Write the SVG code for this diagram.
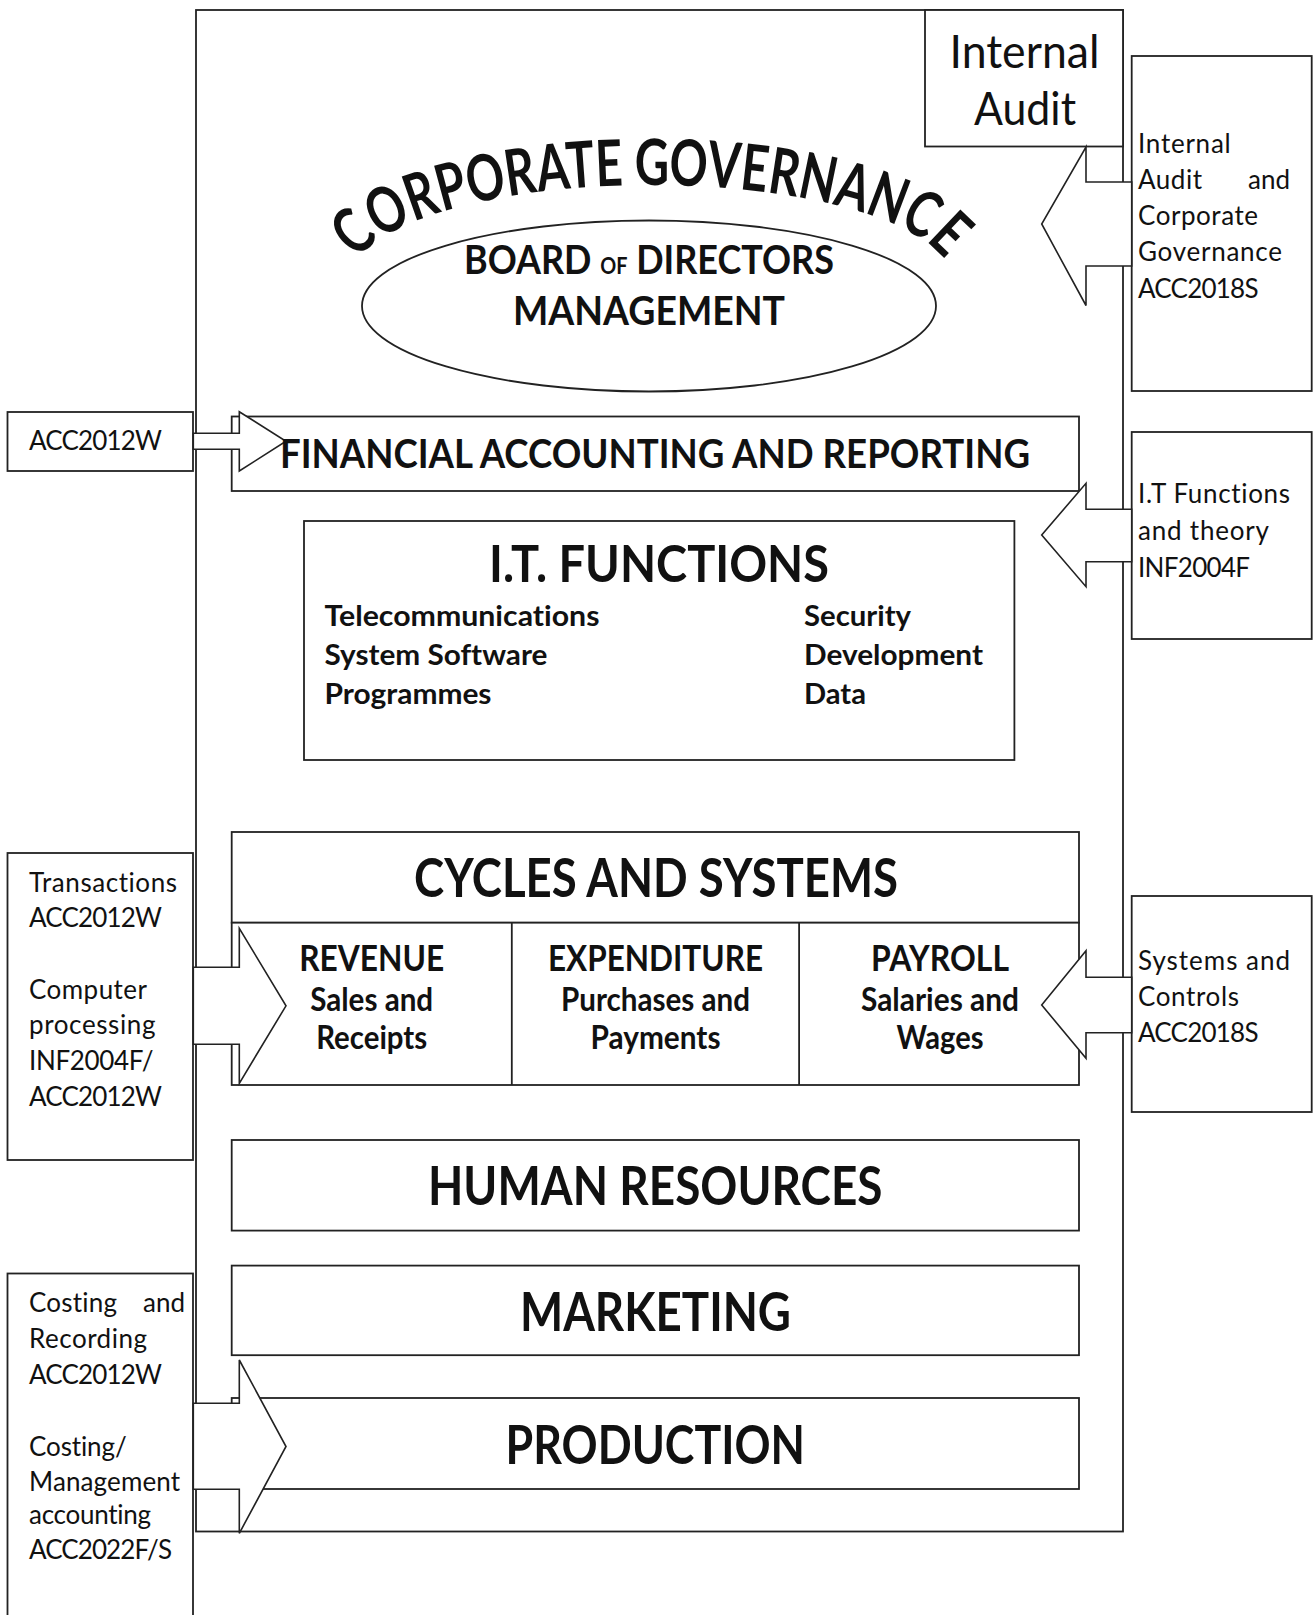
<svg xmlns="http://www.w3.org/2000/svg" width="1313" height="1615" viewBox="0 0 1313 1615">
<style>
.ln{fill:none;stroke:#222;stroke-width:1.8}
.bx{fill:#fff;stroke:#222;stroke-width:1.8}
.ar{fill:#fff;stroke:#222;stroke-width:1.6;stroke-linejoin:miter}
.t{font-family:Lato,"Open Sans",sans-serif;fill:#111;font-variant-ligatures:none}
.r{font-size:26px;font-weight:400}
.h{font-weight:700}
</style>
<defs>
<path id="arc" d="M 351 280 A 300 95 0 0 1 951 280"/>
</defs>
<rect width="1313" height="1615" fill="#fff"/>

<g id="frame">
<rect class="ln" x="196" y="10" width="927" height="1521.5"/>
</g>

<g id="internal-audit">
<rect class="bx" x="925" y="10" width="198" height="136.5"/>
<text class="t" x="1024.5" y="68" font-size="46" text-anchor="middle" textLength="150" lengthAdjust="spacingAndGlyphs">Internal</text>
<text class="t" x="1025" y="125" font-size="46" text-anchor="middle" textLength="102" lengthAdjust="spacingAndGlyphs">Audit</text>
</g>

<g id="corporate-governance">
<ellipse class="bx" cx="649" cy="306" rx="287" ry="85.5"/>
<text class="t h" font-size="64"><textPath href="#arc" startOffset="50%" text-anchor="middle" textLength="620" lengthAdjust="spacingAndGlyphs">CORPORATE GOVERNANCE</textPath></text>
<text class="t h" x="464" y="274" font-size="40" textLength="370" lengthAdjust="spacingAndGlyphs">BOARD <tspan font-size="22">OF</tspan> DIRECTORS</text>
<text class="t h" x="513" y="325" font-size="40" textLength="272" lengthAdjust="spacingAndGlyphs">MANAGEMENT</text>
</g>

<g id="financial">
<rect class="bx" x="231.7" y="416.5" width="847.3" height="74.5"/>
</g>

<g id="it-functions">
<rect class="bx" x="304" y="521" width="710.4" height="239"/>
<text class="t h" x="489" y="582" font-size="52" textLength="340" lengthAdjust="spacingAndGlyphs">I.T. FUNCTIONS</text>
<text class="t h" x="324.5" y="626" font-size="29" textLength="275" lengthAdjust="spacingAndGlyphs">Telecommunications</text>
<text class="t h" x="324.5" y="665" font-size="29" textLength="223" lengthAdjust="spacingAndGlyphs">System Software</text>
<text class="t h" x="324.5" y="704" font-size="29" textLength="167" lengthAdjust="spacingAndGlyphs">Programmes</text>
<text class="t h" x="804" y="626" font-size="29" textLength="107" lengthAdjust="spacingAndGlyphs">Security</text>
<text class="t h" x="804" y="665" font-size="29" textLength="179" lengthAdjust="spacingAndGlyphs">Development</text>
<text class="t h" x="804" y="704" font-size="29" textLength="62" lengthAdjust="spacingAndGlyphs">Data</text>
</g>

<g id="cycles">
<rect class="bx" x="231.7" y="832" width="847.3" height="90.7"/>
<rect class="bx" x="231.7" y="922.7" width="847.3" height="162.3"/>
<line class="ln" x1="511.8" y1="922.7" x2="511.8" y2="1085"/>
<line class="ln" x1="799.1" y1="922.7" x2="799.1" y2="1085"/>
</g>

<g id="human-resources">
<rect class="bx" x="231.7" y="1140" width="847.3" height="90.6"/>
<text class="t h" x="428" y="1205" font-size="54" textLength="454.5" lengthAdjust="spacingAndGlyphs">HUMAN RESOURCES</text>
</g>

<g id="marketing">
<rect class="bx" x="231.7" y="1265.6" width="847.3" height="89.6"/>
<text class="t h" x="520" y="1330.5" font-size="54" textLength="271" lengthAdjust="spacingAndGlyphs">MARKETING</text>
</g>

<g id="production">
<rect class="bx" x="231.7" y="1398" width="847.3" height="91"/>
<text class="t h" x="505.6" y="1464" font-size="54" textLength="299.4" lengthAdjust="spacingAndGlyphs">PRODUCTION</text>
</g>

<g id="box-acc2012w">
<rect class="bx" x="7.5" y="412" width="185.5" height="59"/>
<text class="t r" x="29" y="450" textLength="133">ACC2012W</text>
</g>

<g id="box-transactions">
<rect class="bx" x="7.5" y="853" width="185.5" height="307"/>
<text class="t r" x="29" y="892" textLength="148">Transactions</text>
<text class="t r" x="29" y="927" textLength="133">ACC2012W</text>
<text class="t r" x="29" y="999" textLength="118">Computer</text>
<text class="t r" x="29" y="1034" textLength="126.5">processing</text>
<text class="t r" x="29" y="1070" textLength="124.6">INF2004F/</text>
<text class="t r" x="29" y="1106" textLength="133">ACC2012W</text>
</g>

<g id="box-costing">
<rect class="bx" x="7.5" y="1273.5" width="185.5" height="400"/>
<text class="t r" x="29" y="1312" textLength="88">Costing</text>
<text class="t r" x="185" y="1312" text-anchor="end">and</text>
<text class="t r" x="29" y="1348" textLength="118">Recording</text>
<text class="t r" x="29" y="1384" textLength="133">ACC2012W</text>
<text class="t r" x="29" y="1456" textLength="97.7">Costing/</text>
<text class="t r" x="29" y="1491" textLength="151">Management</text>
<text class="t r" x="29" y="1524" textLength="122">accounting</text>
<text class="t r" x="29" y="1559" textLength="143">ACC2022F/S</text>
</g>

<g id="box-audit-course">
<rect class="bx" x="1131.7" y="56" width="180" height="335"/>
<text class="t r" x="1138" y="153" textLength="92.7">Internal</text>
<text class="t r" x="1138" y="189" textLength="64">Audit</text>
<text class="t r" x="1290" y="189" text-anchor="end">and</text>
<text class="t r" x="1138" y="225" textLength="120">Corporate</text>
<text class="t r" x="1138" y="261" textLength="144">Governance</text>
<text class="t r" x="1138" y="297.5" textLength="120.5">ACC2018S</text>
</g>

<g id="box-it-course">
<rect class="bx" x="1131.7" y="432" width="180" height="207"/>
<text class="t r" x="1138" y="503" textLength="152">I.T Functions</text>
<text class="t r" x="1138" y="540" textLength="131">and theory</text>
<text class="t r" x="1138" y="577" textLength="112">INF2004F</text>
</g>

<g id="box-systems-course">
<rect class="bx" x="1131.7" y="896" width="180" height="216"/>
<text class="t r" x="1138" y="970" textLength="152">Systems and</text>
<text class="t r" x="1138" y="1006" textLength="101">Controls</text>
<text class="t r" x="1138" y="1042" textLength="120.5">ACC2018S</text>
</g>

<g id="connectors">
<polygon class="ar" points="193.3,433.3 239.3,433.3 239.3,411.7 286,441.3 239.3,471 239.3,449.3 193.3,449.3"/>
<polygon class="ar" points="193.3,967.3 239.3,967.3 239.3,928.3 286,1005.8 239.3,1083.3 239.3,1044.3 193.3,1044.3"/>
<polygon class="ar" points="193.3,1403.3 239.3,1403.3 239.3,1360 286,1446.5 239.3,1533.3 239.3,1489.3 193.3,1489.3"/>
<polygon class="ar" points="1131.7,182 1086,182 1086,147 1041.7,224 1086,305.5 1086,266 1131.7,266"/>
<polygon class="ar" points="1131.7,509.3 1086,509.3 1086,483.3 1041.7,535 1086,586.7 1086,561.7 1131.7,561.7"/>
<polygon class="ar" points="1131.7,977.3 1086,977.3 1086,950.7 1041.7,1005 1086,1058.3 1086,1032.7 1131.7,1032.7"/>
</g>

<g id="labels-over-arrows">
<text class="t h" x="280" y="468" font-size="40" textLength="750" lengthAdjust="spacingAndGlyphs">FINANCIAL ACCOUNTING AND REPORTING</text>
<text class="t h" x="414" y="897" font-size="54" textLength="484" lengthAdjust="spacingAndGlyphs">CYCLES AND SYSTEMS</text>
<text class="t h" x="371.7" y="971" font-size="36" text-anchor="middle" textLength="145" lengthAdjust="spacingAndGlyphs">REVENUE</text>
<text class="t h" x="371.7" y="1011" font-size="33" text-anchor="middle" textLength="123" lengthAdjust="spacingAndGlyphs">Sales and</text>
<text class="t h" x="371.7" y="1049" font-size="33" text-anchor="middle" textLength="111" lengthAdjust="spacingAndGlyphs">Receipts</text>
<text class="t h" x="655.5" y="971" font-size="36" text-anchor="middle" textLength="215" lengthAdjust="spacingAndGlyphs">EXPENDITURE</text>
<text class="t h" x="655.5" y="1011" font-size="33" text-anchor="middle" textLength="189" lengthAdjust="spacingAndGlyphs">Purchases and</text>
<text class="t h" x="655.5" y="1049" font-size="33" text-anchor="middle" textLength="130" lengthAdjust="spacingAndGlyphs">Payments</text>
<text class="t h" x="940" y="971" font-size="36" text-anchor="middle" textLength="138" lengthAdjust="spacingAndGlyphs">PAYROLL</text>
<text class="t h" x="940" y="1011" font-size="33" text-anchor="middle" textLength="158" lengthAdjust="spacingAndGlyphs">Salaries and</text>
<text class="t h" x="940" y="1049" font-size="33" text-anchor="middle" textLength="87" lengthAdjust="spacingAndGlyphs">Wages</text>
</g>
</svg>
